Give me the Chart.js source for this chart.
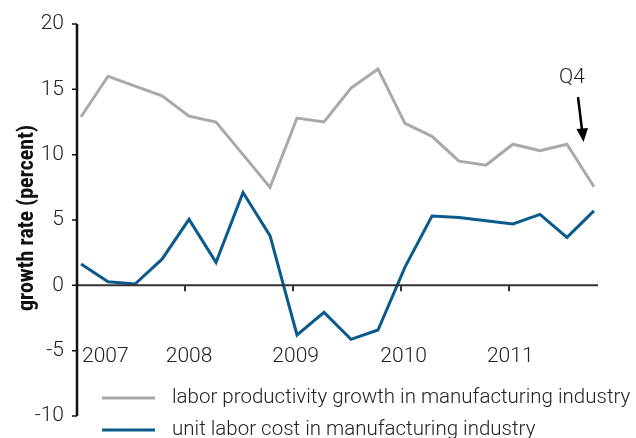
<!DOCTYPE html>
<html>
<head>
<meta charset="utf-8">
<script src="https://cdn.jsdelivr.net/npm/chart.js@4"></script>
<style>
  html, body { margin: 0; padding: 0; background: #fff; }
  #wrap { width: 636px; height: 438px; }
</style>
</head>
<body>
<div id="wrap"><canvas id="chart" width="636" height="438"></canvas></div>
<script>
// quarterly values, 2007 Q1 .. 2011 Q4
const quarters = ['2007Q1','2007Q2','2007Q3','2007Q4','2008Q1','2008Q2','2008Q3','2008Q4',
                  '2009Q1','2009Q2','2009Q3','2009Q4','2010Q1','2010Q2','2010Q3','2010Q4',
                  '2011Q1','2011Q2','2011Q3','2011Q4'];
const productivity = [12.9, 16.0, 15.25, 14.5, 12.95, 12.5, 10.0, 7.5, 12.8, 12.5,
                      15.1, 16.55, 12.4, 11.4, 9.5, 9.2, 10.8, 10.3, 10.8, 7.55];
const unitLaborCost = [1.63, 0.28, 0.1, 2.0, 5.05, 1.76, 7.1, 3.8, -3.8, -2.07,
                       -4.13, -3.42, 1.4, 5.3, 5.2, 4.95, 4.7, 5.43, 3.67, 5.7];
const years = ['2007', '2008', '2009', '2010', '2011'];
const yTicks = [-10, -5, 0, 5, 10, 15, 20];
const seriesNames = ['labor productivity growth in manufacturing industry',
                     'unit labor cost in manufacturing industry'];

const GRAY = '#a8a9ab';
const BLUE = '#0b5a8c';
const TEXT = '#222';
const LIGHT = '300 21px Roboto, "Liberation Sans", sans-serif';

// axes, year labels, legend and the Q4 arrow drawn by hand
const decorations = {
  id: 'decorations',
  afterDatasetsDraw(chart) {
    const { ctx, chartArea: a, scales: { x, y } } = chart;
    const y0 = y.getPixelForValue(0);
    ctx.save();

    // zero line with year boundary ticks
    ctx.strokeStyle = '#333';
    ctx.lineWidth = 2;
    ctx.beginPath();
    ctx.moveTo(a.left, y0);
    ctx.lineTo(a.right, y0);
    for (let k = 1; k < years.length; k++) {
      const px = Math.round(x.getPixelForValue(4 * k - 0.15));
      ctx.moveTo(px, y0);
      ctx.lineTo(px, y0 + 6);
    }
    ctx.stroke();

    // y axis
    ctx.strokeStyle = '#111';
    ctx.lineWidth = 2.5;
    ctx.beginPath();
    ctx.moveTo(a.left, a.top);
    ctx.lineTo(a.left, a.bottom);
    ctx.stroke();
    ctx.lineWidth = 1.5;
    ctx.beginPath();
    yTicks.forEach(v => {
      const py = y.getPixelForValue(v);
      ctx.moveTo(a.left - 5, py);
      ctx.lineTo(a.left, py);
    });
    ctx.stroke();

    ctx.fillStyle = TEXT;
    ctx.font = LIGHT;
    ctx.textAlign = 'right';
    ctx.textBaseline = 'middle';
    yTicks.forEach(v => {
      ctx.fillText(String(v), a.left - 13, y.getPixelForValue(v));
    });

    // year labels sit below the zero line
    ctx.textAlign = 'center';
    const yearPos = [0.9, 4.0, 7.95, 11.95, 15.9];
    years.forEach((yr, i) => {
      ctx.fillText(yr, x.getPixelForValue(yearPos[i]), y.getPixelForValue(-5.5));
    });

    // y title
    ctx.save();
    ctx.translate(27, 218);
    ctx.rotate(-Math.PI / 2);
    ctx.font = 'bold 22px "Liberation Sans Narrow", "Roboto Condensed", "Liberation Sans", sans-serif';
    ctx.fillStyle = '#111';
    ctx.fillText('growth rate (percent)', 0, 0);
    ctx.restore();

    // legend
    const legendRows = [{ c: GRAY, y: 398 }, { c: BLUE, y: 430 }];
    ctx.lineWidth = 3;
    ctx.font = '300 20.5px Roboto, "Liberation Sans", sans-serif';
    ctx.textAlign = 'left';
    legendRows.forEach((r, i) => {
      ctx.strokeStyle = r.c;
      ctx.beginPath();
      ctx.moveTo(102, r.y);
      ctx.lineTo(155, r.y);
      ctx.stroke();
      ctx.fillStyle = TEXT;
      ctx.fillText(seriesNames[i], 172, r.y);
    });

    // Q4 callout
    ctx.font = LIGHT;
    ctx.textAlign = 'center';
    ctx.fillText('Q4', 572, 78);
    ctx.strokeStyle = '#000';
    ctx.lineWidth = 2.5;
    ctx.beginPath();
    ctx.moveTo(578, 97);
    ctx.lineTo(582, 130);
    ctx.stroke();
    ctx.fillStyle = '#000';
    ctx.beginPath();
    ctx.moveTo(583.5, 142);
    ctx.lineTo(576.5, 129);
    ctx.lineTo(588, 128);
    ctx.closePath();
    ctx.fill();

    ctx.restore();
  }
};

new Chart(document.getElementById('chart'), {
  type: 'line',
  data: {
    labels: quarters,
    datasets: [
      {
        label: seriesNames[0],
        data: productivity.map((v, i) => ({ x: i, y: v })),
        borderColor: GRAY,
        borderWidth: 3,
        pointRadius: 0,
        tension: 0
      },
      {
        label: seriesNames[1],
        data: unitLaborCost.map((v, i) => ({ x: i, y: v })),
        borderColor: BLUE,
        borderWidth: 3,
        pointRadius: 0,
        tension: 0
      }
    ]
  },
  options: {
    responsive: false,
    animation: false,
    layout: { padding: { left: 77, right: 38, top: 24, bottom: 22 } },
    plugins: { legend: { display: false }, tooltip: { enabled: false } },
    scales: {
      x: { type: 'linear', min: -0.15, max: 19.15, display: false },
      y: { min: -10, max: 20, display: false }
    }
  },
  plugins: [decorations]
});
</script>
</body>
</html>
